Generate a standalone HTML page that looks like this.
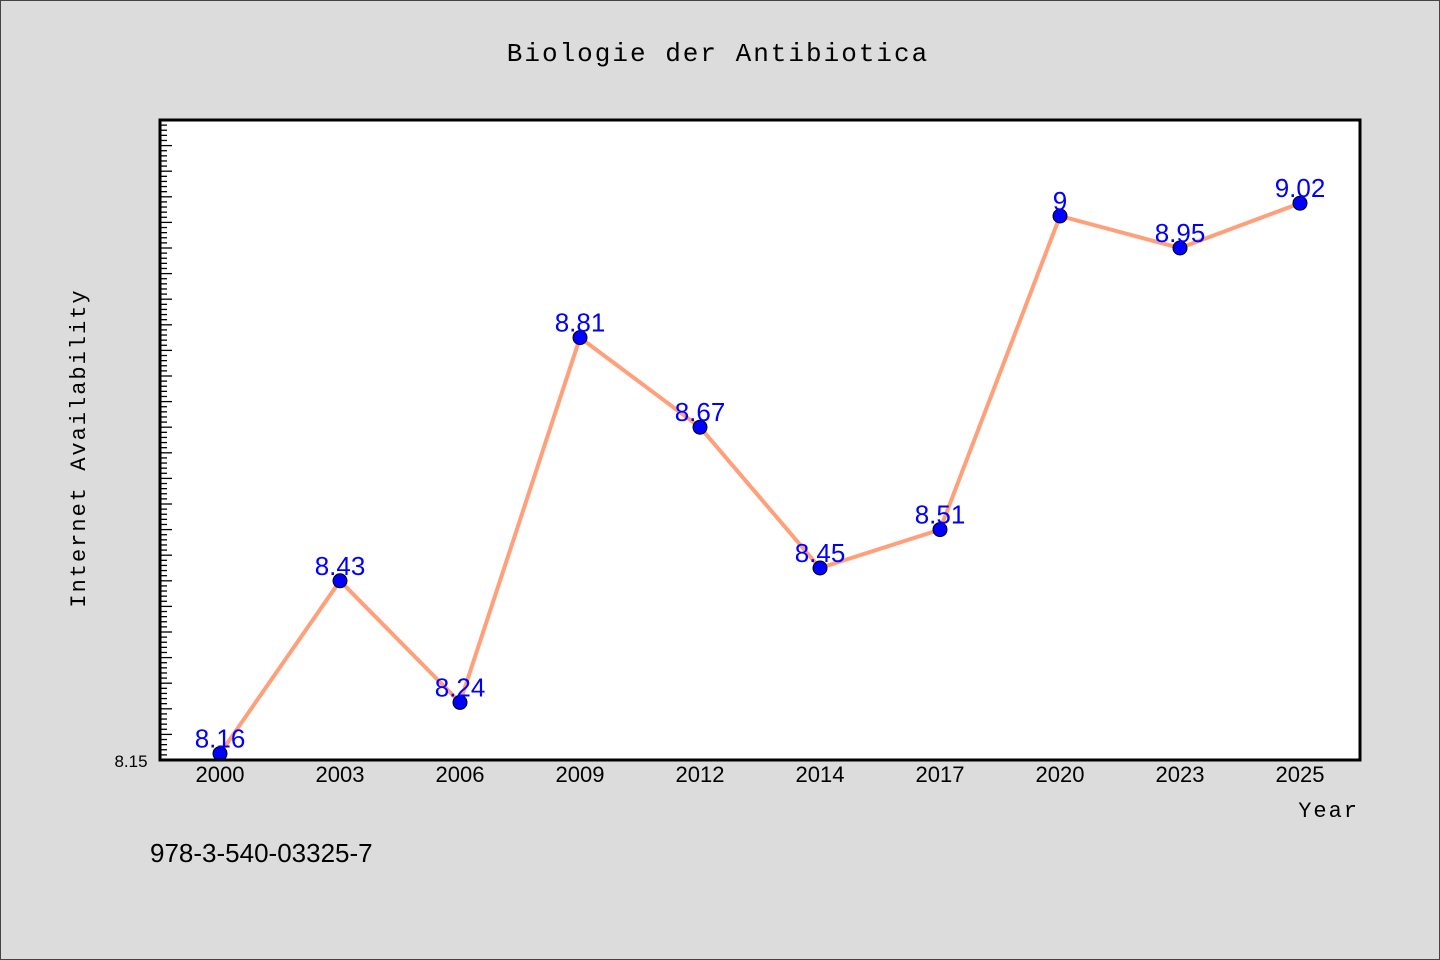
<!DOCTYPE html>
<html><head><meta charset="utf-8"><style>
body{margin:0;background:#dcdcdc;font-family:"Liberation Sans","WenQuanYi Zen Hei",sans-serif}
svg{display:block}
</style></head><body>
<svg width="1440" height="960">
<rect x="0.5" y="0.5" width="1439" height="959" fill="#dcdcdc" stroke="#444"/>
<text x="718" y="61" text-anchor="middle" font-size="26" letter-spacing="2" font-family="'WenQuanYi Zen Hei','Liberation Mono',monospace">Biologie der Antibiotica</text>
<rect x="160" y="120" width="1200" height="640" fill="#fff"/>
<g id="ticks"></g>
<g id="series"></g>
<rect x="160" y="120" width="1200" height="640" fill="none" stroke="#000" stroke-width="3"/>
<text x="131" y="767" text-anchor="middle" font-size="17" font-family="'WenQuanYi Zen Hei',sans-serif">8.15</text>
<text transform="translate(85,448) rotate(-90)" text-anchor="middle" font-size="22" letter-spacing="2" font-family="'WenQuanYi Zen Hei','Liberation Mono',monospace">Internet Availability</text>
<text x="1359" y="817" text-anchor="end" font-size="22" letter-spacing="2" font-family="'WenQuanYi Zen Hei','Liberation Mono',monospace">Year</text>
<text x="150" y="862" font-size="26" font-family="'WenQuanYi Zen Hei',sans-serif">978-3-540-03325-7</text>
</svg>
<script>
const categories=["2000","2003","2006","2009","2012","2014","2017","2020","2023","2025"];
const values=[8.16,8.43,8.24,8.81,8.67,8.45,8.51,9.00,8.95,9.02];
const valueLabels=["8.16","8.43","8.24","8.81","8.67","8.45","8.51","9","8.95","9.02"];
const yMin=8.15,yMax=9.15;
const NS="http://www.w3.org/2000/svg";
const X0=160,W=1200,Y0=120,H=640;
const xs=i=>X0+60+i*120;
const ys=v=>Y0+H-(v-yMin)/(yMax-yMin)*H;
function mk(t,a,p){const e=document.createElementNS(NS,t);for(const k in a)e.setAttribute(k,a[k]);p.appendChild(e);return e;}
const tg=document.getElementById('ticks'),sg=document.getElementById('series');
for(let k=0;k<=125;k++){const v=yMin+k*0.008;const y=ys(v);if(y<Y0)break;
 const l=mk('line',{x1:X0,x2:X0+(k%5==0?12:7),y1:y,y2:y,stroke:'#000','stroke-width':1.3},tg);
 
 }
categories.forEach((c,i)=>{const t=mk('text',{x:xs(i),y:782,'text-anchor':'middle','font-size':22,'font-family':"'WenQuanYi Zen Hei',sans-serif"},tg);t.textContent=c;
 
 });
const pl=mk('polyline',{points:values.map((v,i)=>xs(i)+','+ys(v)).join(' '),fill:'none',stroke:'#ffa07a','stroke-width':4},sg);


values.forEach((v,i)=>{const c=mk('circle',{cx:xs(i),cy:ys(v),r:7,fill:'#0000ff',stroke:'#000','stroke-width':1},sg);
 
 
 const t=mk('text',{x:xs(i),y:ys(v)-6,'text-anchor':'middle','font-size':26,fill:'#0000ff','font-family':"'WenQuanYi Zen Hei',sans-serif"},sg);t.textContent=valueLabels[i];
 
 });
</script>
</body></html>
